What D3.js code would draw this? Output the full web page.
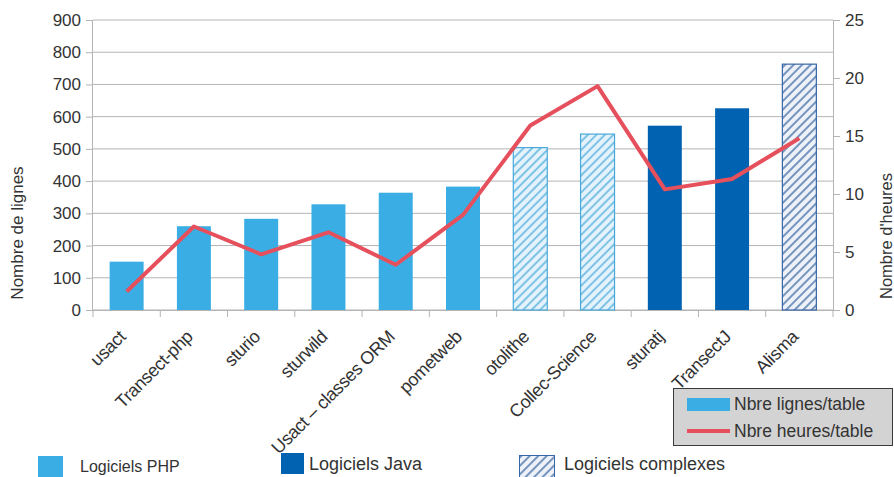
<!DOCTYPE html>
<html><head><meta charset="utf-8">
<script src="https://cdn.jsdelivr.net/npm/d3@7"></script>
<style>body{margin:0;background:#fff;}svg{display:block;font-family:"Liberation Sans",Arial,sans-serif;}</style>
</head><body><svg id="c" width="894" height="477"></svg>
<script>
const categories = ["usact","Transect-php","sturio","sturwild","Usact – classes ORM","pometweb","otolithe","Collec-Science","sturatj","TransectJ","Alisma"];
const lignes = [150, 260, 283, 328, 364, 383, 504, 546, 572, 626, 763];
const heures = [1.6, 7.2, 4.8, 6.7, 3.9, 8.2, 15.9, 19.3, 10.4, 11.3, 14.8];
const groups = ["php","php","php","php","php","php","complexLight","complexLight","java","java","complexDark"];
const leftTicks = [0,100,200,300,400,500,600,700,800,900];
const rightTicks = [0,5,10,15,20,25];

const svg = d3.select("#c");
const L = 93, R = 833, T = 20, B = 310;
const txt = "#333";
const FF = "Liberation Sans, Arial, sans-serif";

const x = d3.scaleBand().domain(categories).range([L, R]).paddingInner(0.48).paddingOuter(0.24);
const xb = d3.scaleBand().domain(categories).range([L, R]);
const yL = d3.scaleLinear().domain([0, 900]).range([B, T]);
const yR = d3.scaleLinear().domain([0, 25]).range([B, T]);

const defs = svg.append("defs");
function hatch(id, bg, fg){
  const p = defs.append("pattern").attr("id", id).attr("patternUnits","userSpaceOnUse")
    .attr("width", 6).attr("height", 6).attr("patternTransform","rotate(45)");
  p.append("rect").attr("width",6).attr("height",6).attr("fill",bg);
  p.append("line").attr("x1",1).attr("y1",0).attr("x2",1).attr("y2",6).attr("stroke",fg).attr("stroke-width",1.3);
}
hatch("hLight", "#e4f3fb", "#47aadd");
hatch("hDark", "#eef2f8", "#3462a0");

const fills = {php:"#3aaee4", java:"#0062b0", complexLight:"url(#hLight)", complexDark:"url(#hDark)"};
const strokes = {php:"none", java:"none", complexLight:"#4aa8d8", complexDark:"#3866a6"};

// gridlines
svg.append("g").selectAll("line").data(leftTicks).join("line")
  .attr("x1", L).attr("x2", R).attr("y1", d=>yL(d)).attr("y2", d=>yL(d))
  .attr("stroke", "#b4b4b4").attr("stroke-width", 1);

// left axis
const ga = svg.append("g").attr("transform", `translate(${L},0)`)
  .call(d3.axisLeft(yL).tickValues(leftTicks).tickSize(7).tickPadding(5));
ga.select(".domain").attr("stroke","#b4b4b4").attr("d", `M-0.5,${T}V${B}`);
ga.selectAll(".tick line").attr("stroke","#b4b4b4");
ga.selectAll(".tick text").attr("fill", txt).attr("font-size", 17).attr("font-family", FF);

// right axis
const gr = svg.append("g").attr("transform", `translate(${R},0)`)
  .call(d3.axisRight(yR).tickValues(rightTicks).tickSize(7).tickPadding(5));
gr.select(".domain").attr("stroke","#b4b4b4").attr("d", `M0.5,${T}V${B}`);
gr.selectAll(".tick line").attr("stroke","#b4b4b4");
gr.selectAll(".tick text").attr("fill", txt).attr("font-size", 17).attr("font-family", FF);

// bottom axis
svg.append("line").attr("x1", L).attr("x2", R).attr("y1", B+0.5).attr("y2", B+0.5).attr("stroke","#b4b4b4");
svg.append("g").selectAll("line").data(categories.concat(["__end"])).join("line")
  .attr("x1", (d,i)=> i < categories.length ? xb(d) : R)
  .attr("x2", (d,i)=> i < categories.length ? xb(d) : R)
  .attr("y1", B).attr("y2", B+7).attr("stroke","#b4b4b4");

// bars
svg.append("g").selectAll("rect").data(categories).join("rect")
  .attr("x", d=>x(d)+0.5).attr("width", x.bandwidth()-1)
  .attr("y", (d,i)=>yL(lignes[i])).attr("height", (d,i)=>B - yL(lignes[i]))
  .attr("fill", (d,i)=>fills[groups[i]])
  .attr("stroke", (d,i)=>strokes[groups[i]]).attr("stroke-width", 1.2);

// line
const line = d3.line().x((d,i)=>xb(categories[i]) + xb.bandwidth()/2).y(d=>yR(d));
svg.append("path").datum(heures).attr("d", line).attr("fill","none")
  .attr("stroke","#e5505c").attr("stroke-width", 4).attr("stroke-linejoin","round");

// x labels
svg.append("g").selectAll("text").data(categories).join("text")
  .attr("transform", d=>`translate(${xb(d)+xb.bandwidth()/2},${B+28}) rotate(-45)`)
  .attr("text-anchor","end").attr("font-size", 18).attr("letter-spacing", -0.4).attr("fill", txt).text(d=>d);

// axis titles
svg.append("text").attr("transform", "translate(23,233) rotate(-90)").attr("text-anchor","middle")
  .attr("font-size", 17).attr("fill", txt).text("Nombre de lignes");
svg.append("text").attr("transform", "translate(892,236) rotate(-90)").attr("text-anchor","middle")
  .attr("font-size", 16.5).attr("fill", txt).text("Nombre d'heures");

// legend box
const lg = svg.append("g");
lg.append("rect").attr("x", 673.5).attr("y", 388.5).attr("width", 219).attr("height", 57)
  .attr("fill", "#d3d3d3").attr("stroke", "#3a3a3a").attr("stroke-width", 1);
lg.append("rect").attr("x", 687).attr("y", 398).attr("width", 43).attr("height", 13).attr("fill", "#3aaee4");
lg.append("line").attr("x1", 687).attr("x2", 730).attr("y1", 431).attr("y2", 431).attr("stroke", "#e5505c").attr("stroke-width", 4);
lg.append("text").attr("x", 734).attr("y", 410).attr("font-size", 17.5).attr("fill", txt).text("Nbre lignes/table");
lg.append("text").attr("x", 734).attr("y", 437).attr("font-size", 17.5).attr("fill", txt).text("Nbre heures/table");

// bottom legend
const bl = svg.append("g");
const legendItems = ["Logiciels PHP","Logiciels Java","Logiciels complexes"];
bl.append("rect").attr("x", 38).attr("y", 456).attr("width", 25).attr("height", 22).attr("fill", "#3aaee4");
bl.append("text").attr("x", 80).attr("y", 472).attr("font-size", 16).attr("fill", txt).text(legendItems[0]);
bl.append("rect").attr("x", 281).attr("y", 453).attr("width", 23).attr("height", 21).attr("fill", "#0062b0");
bl.append("text").attr("x", 309).attr("y", 470).attr("font-size", 18).attr("fill", txt).text(legendItems[1]);
bl.append("rect").attr("x", 519.5).attr("y", 455.5).attr("width", 35).attr("height", 22).attr("fill", "url(#hDark)").attr("stroke","#3866a6");
bl.append("text").attr("x", 564).attr("y", 470).attr("font-size", 18).attr("fill", txt).text(legendItems[2]);
</script></body></html>
